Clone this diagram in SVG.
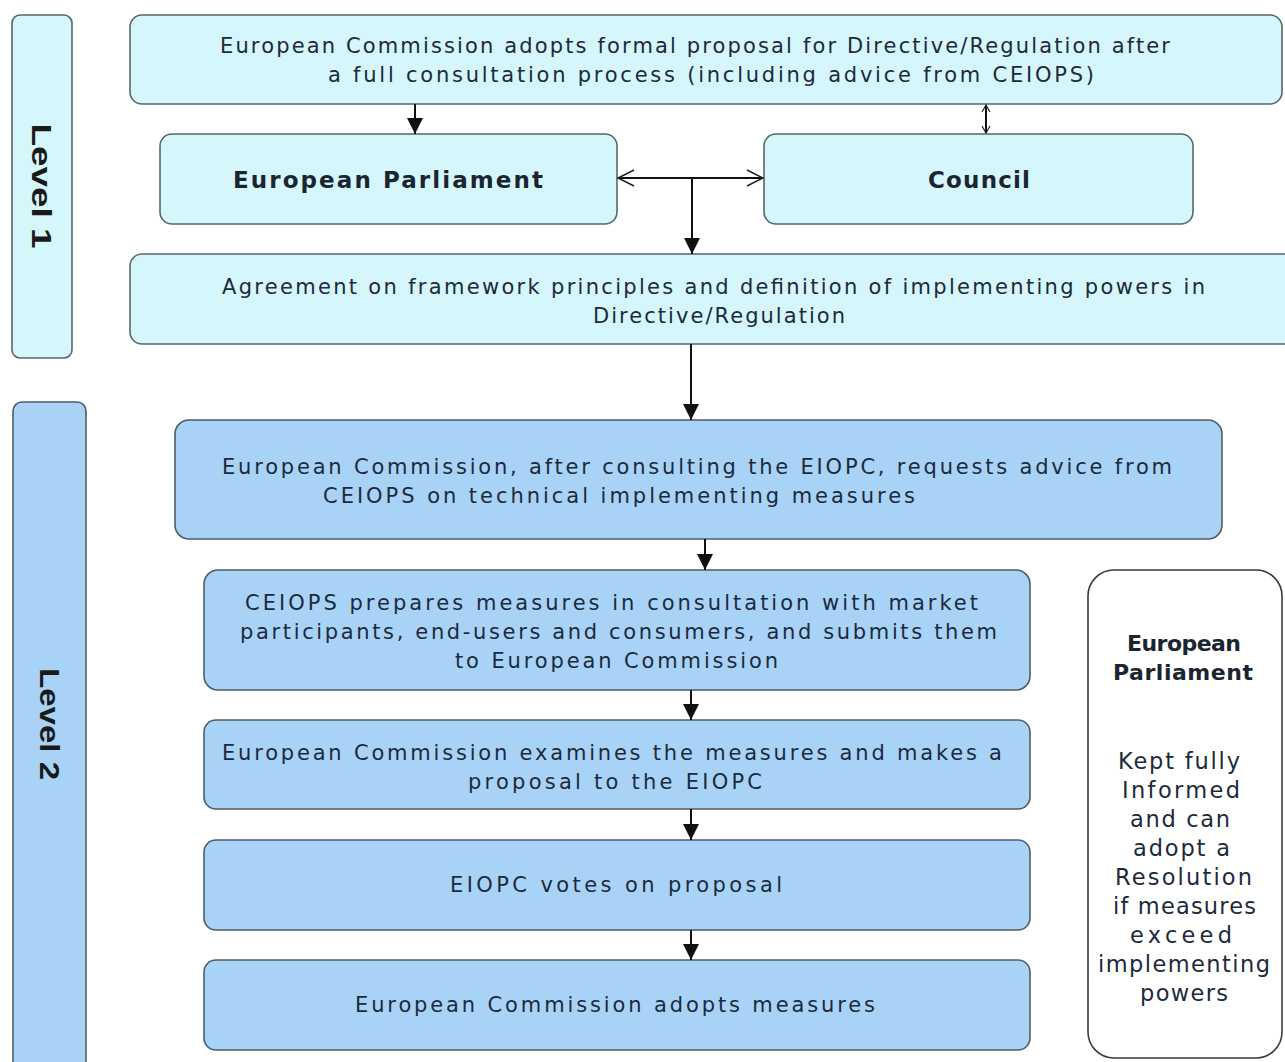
<svg xmlns="http://www.w3.org/2000/svg" width="1285" height="1062" viewBox="0 0 1285 1062">
<style>
.l1{fill:#d5f7fb;stroke:#56666c;stroke-width:1.6}
.l2{fill:#a8d3f7;stroke:#4d5c66;stroke-width:1.6}
.wb{fill:#ffffff;stroke:#3a3a3a;stroke-width:1.6}
.t{font-family:"DejaVu Sans",Verdana,sans-serif;font-size:21px;fill:#1c2a3c}
.rt{font-family:"DejaVu Sans",Verdana,sans-serif;font-size:22.5px;fill:#1c2a3c}
.tb{font-family:"DejaVu Sans",Verdana,sans-serif;font-size:23px;font-weight:bold;fill:#1a2530}
.rb{font-family:"DejaVu Sans",Verdana,sans-serif;font-size:22px;font-weight:bold;fill:#1a2530}
.lv{font-family:"Liberation Sans",Arial,sans-serif;font-size:28px;font-weight:bold;fill:#1a1a1a}
.c{stroke:#111;stroke-width:2;fill:none}
</style>
<defs>
<marker id="ah" markerUnits="userSpaceOnUse" markerWidth="20" markerHeight="18" refX="18" refY="9" orient="auto">
<path d="M2,1 L18,9 L2,17 Z" fill="#111"/>
</marker>
<marker id="oh" markerUnits="userSpaceOnUse" markerWidth="20" markerHeight="20" refX="18" refY="10" orient="auto-start-reverse">
<path d="M2,2 L18,10 L2,18" fill="none" stroke="#222" stroke-width="1.5"/>
</marker>
<marker id="sh" markerUnits="userSpaceOnUse" markerWidth="10" markerHeight="10" refX="8" refY="5" orient="auto-start-reverse">
<path d="M1,1 L8,5 L1,9" fill="none" stroke="#222" stroke-width="1.2"/>
</marker>
</defs>
<rect width="1285" height="1062" fill="#ffffff"/>

<g id="level1">
<rect class="l1" x="12" y="15" width="60" height="343" rx="8"/>
<text class="lv" transform="translate(32,186) rotate(90)" text-anchor="middle" textLength="125" lengthAdjust="spacingAndGlyphs">Level 1</text>
</g>
<g id="level2">
<rect class="l2" x="13" y="402" width="73" height="672" rx="9"/>
<text class="lv" transform="translate(40,724) rotate(90)" text-anchor="middle" textLength="112" lengthAdjust="spacingAndGlyphs">Level 2</text>
</g>

<g id="commission-proposal">
<rect class="l1" x="130" y="15" width="1152" height="89" rx="12"/>
<text class="t" x="220" y="53" textLength="950" lengthAdjust="spacing">European Commission adopts formal proposal for Directive/Regulation after</text>
<text class="t" x="328" y="82" textLength="766" lengthAdjust="spacing">a full consultation process (including advice from CEIOPS)</text>
</g>
<g id="european-parliament-l1">
<rect class="l1" x="160" y="134" width="457" height="90" rx="12"/>
<text class="tb" x="233" y="188" textLength="310" lengthAdjust="spacing">European Parliament</text>
</g>
<g id="council">
<rect class="l1" x="764" y="134" width="429" height="90" rx="12"/>
<text class="tb" x="928" y="188" textLength="102" lengthAdjust="spacing">Council</text>
</g>
<g id="agreement">
<rect class="l1" x="130" y="254" width="1170" height="90" rx="12"/>
<text class="t" x="222" y="294" textLength="983" lengthAdjust="spacing">Agreement on framework principles and definition of implementing powers in</text>
<text class="t" x="593" y="323" textLength="252" lengthAdjust="spacing">Directive/Regulation</text>
</g>

<g id="request-advice">
<rect class="l2" x="175" y="420" width="1047" height="119" rx="14"/>
<text class="t" x="222" y="474" textLength="950" lengthAdjust="spacing">European Commission, after consulting the EIOPC, requests advice from</text>
<text class="t" x="323" y="503" textLength="592" lengthAdjust="spacing">CEIOPS on technical implementing measures</text>
</g>
<g id="ceiops-prepares">
<rect class="l2" x="204" y="570" width="826" height="120" rx="14"/>
<text class="t" x="245" y="610" textLength="733" lengthAdjust="spacing">CEIOPS prepares measures in consultation with market</text>
<text class="t" x="240" y="639" textLength="757" lengthAdjust="spacing">participants, end-users and consumers, and submits them</text>
<text class="t" x="455" y="668" textLength="323" lengthAdjust="spacing">to European Commission</text>
</g>
<g id="commission-examines">
<rect class="l2" x="204" y="720" width="826" height="89" rx="12"/>
<text class="t" x="222" y="760" textLength="780" lengthAdjust="spacing">European Commission examines the measures and makes a</text>
<text class="t" x="468" y="789" textLength="294" lengthAdjust="spacing">proposal to the EIOPC</text>
</g>
<g id="eiopc-votes">
<rect class="l2" x="204" y="840" width="826" height="90" rx="12"/>
<text class="t" x="450" y="892" textLength="332" lengthAdjust="spacing">EIOPC votes on proposal</text>
</g>
<g id="commission-adopts">
<rect class="l2" x="204" y="960" width="826" height="90" rx="12"/>
<text class="t" x="355" y="1012" textLength="520" lengthAdjust="spacing">European Commission adopts measures</text>
</g>
<g id="european-parliament-l2">
<rect class="wb" x="1088" y="570" width="194" height="488" rx="26"/>
<text class="rb" x="1127" y="651" textLength="114" lengthAdjust="spacing">European</text>
<text class="rb" x="1113" y="680" textLength="140" lengthAdjust="spacing">Parliament</text>
<g class="rt">
<text x="1118" y="769" textLength="122" lengthAdjust="spacing">Kept fully</text>
<text x="1122" y="798" textLength="118" lengthAdjust="spacing">Informed</text>
<text x="1130" y="827" textLength="100" lengthAdjust="spacing">and can</text>
<text x="1133" y="856" textLength="97" lengthAdjust="spacing">adopt a</text>
<text x="1115" y="885" textLength="137" lengthAdjust="spacing">Resolution</text>
<text x="1113" y="914" textLength="143" lengthAdjust="spacing">if measures</text>
<text x="1130" y="943" textLength="102" lengthAdjust="spacing">exceed</text>
<text x="1098" y="972" textLength="172" lengthAdjust="spacing">implementing</text>
<text x="1140" y="1001" textLength="88" lengthAdjust="spacing">powers</text>
</g>
</g>

<g id="connectors">
<line class="c" x1="415" y1="104" x2="415" y2="134" marker-end="url(#ah)"/>
<line class="c" x1="986" y1="105" x2="986" y2="133" marker-start="url(#sh)" marker-end="url(#sh)"/>
<line class="c" x1="618" y1="178" x2="763" y2="178" marker-start="url(#oh)" marker-end="url(#oh)"/>
<line class="c" x1="692" y1="178" x2="692" y2="254" marker-end="url(#ah)"/>
<line class="c" x1="691" y1="344" x2="691" y2="420" marker-end="url(#ah)"/>
<line class="c" x1="705" y1="539" x2="705" y2="570" marker-end="url(#ah)"/>
<line class="c" x1="691" y1="690" x2="691" y2="720" marker-end="url(#ah)"/>
<line class="c" x1="691" y1="809" x2="691" y2="840" marker-end="url(#ah)"/>
<line class="c" x1="691" y1="930" x2="691" y2="960" marker-end="url(#ah)"/>
</g>
</svg>
